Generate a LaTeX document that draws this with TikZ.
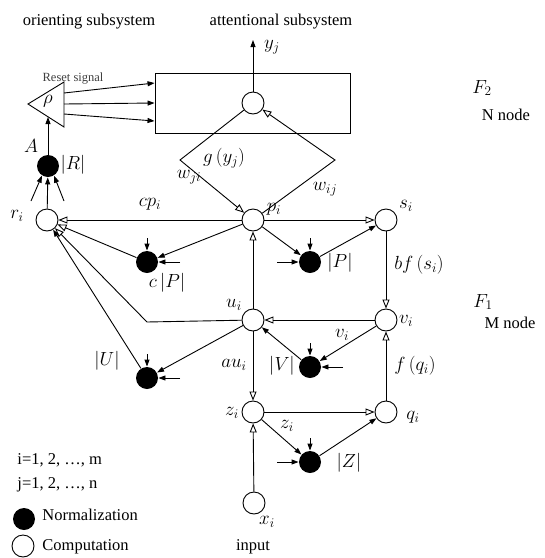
\RequirePackage{fix-cm}
\documentclass[tikz,border=0pt]{standalone}
\usepackage{fontspec}
\setmainfont{Liberation Serif}
\usetikzlibrary{arrows.meta,positioning,calc}

\begin{document}
\begin{tikzpicture}[x=1pt, y=-1pt, line width=0.9pt,
  comp/.style={draw, circle, fill=white, minimum size=22pt, inner sep=0pt},
  norm/.style={circle, fill=black, minimum size=22pt, inner sep=0pt},
  fwd/.style={-{Triangle[open, length=9pt, width=7pt]}},
  nrm/.style={-{Triangle[length=7pt, width=5pt]}},
  lab/.style={font=\fontsize{19}{21}\selectfont, inner sep=1pt},
  txt/.style={font=\fontsize{16.5}{19}\selectfont, inner sep=1pt}
]
\useasboundingbox (0,0) rectangle (545,558);

% headings
\node[txt] (orient) at (89,22) {orienting subsystem};
\node[txt] (attent) at (281,22) {attentional subsystem};

% F2 layer
\node[draw, minimum width=195pt, minimum height=60pt] (att) at (252.5,103) {};
\node[comp] (yj) at (253,103) {};
\coordinate (yout) at (253,40);
\draw[nrm] (yj) -- (yout);
\node[lab] (lyj) at (272,47) {$y_j$};

% reset unit
\draw (64,82) -- (28,104) -- (64,127) -- cycle;
\coordinate (rhoin) at (48,117);
\node[lab] (lrho) at (48,101) {$\rho$};
\node[txt, font=\fontsize{12.5}{14}\selectfont, text=black!75] (reset) at (73,79) {Reset signal};
\draw[nrm] (64,93) -- ($(att.west)+(0,-20)$);
\draw[nrm] (64,104) -- (att.west);
\draw[nrm] (64,114) -- ($(att.west)+(0,18)$);

% F1 layer
\node[comp] (pi) at (253,220) {};
\node[comp] (si) at (386,220) {};
\node[comp] (ui) at (253,320) {};
\node[comp] (vi) at (386,320) {};
\node[comp] (zi) at (253,412) {};
\node[comp] (qi) at (386,412) {};
\node[comp] (xi) at (254,503) {};
\node[comp] (ri) at (47,220) {};
\node[norm] (A) at (48,166) {};
\node[norm] (cP) at (147,262) {};
\node[norm] (P) at (310,262) {};
\node[norm] (U) at (147,378) {};
\node[norm] (V) at (310,367) {};
\node[norm] (Z) at (310,462) {};

% weights between F1 and F2
\coordinate (wl) at (180,160);
\coordinate (wr) at (335,160);
\draw[fwd] (yj) -- (wl) -- (pi);
\draw[fwd] (pi) -- (wr) -- (yj);

% connections
\draw[fwd] (pi) -- (ri);
\draw[nrm] (pi) -- (cP);
\draw[fwd] (cP) -- (ri);
\draw[nrm] (pi) -- (P);
\draw[nrm] (P) -- (si);
\draw[fwd] (pi) -- (si);
\draw[fwd] (si) -- (vi);
\draw[fwd] (vi) -- (ui);
\draw[nrm] (vi) -- (V);
\draw[nrm] (V) -- (ui);
\draw[fwd] (ui) -- (pi);
\coordinate (ubend) at (147,322);
\draw[fwd] (ui) -- (ubend) -- (ri);
\draw[nrm] (ui) -- (U);
\draw[nrm] (U) -- (ri);
\draw[fwd] (ui) -- (zi);
\draw[fwd] (xi) -- (zi);
\draw[fwd] (zi) -- (qi);
\draw[nrm] (zi) -- (Z);
\draw[nrm] (Z) -- (qi);
\draw[fwd] (qi) -- (vi);
\draw[nrm] (ri) -- (A);
\draw[nrm] (A) -- (rhoin);
\coordinate (ra1) at (31,201);
\coordinate (ra2) at (64,201);
\draw[nrm] (ra1) -- (A.238);
\draw[nrm] (ra2) -- (A.302);

% inputs of the normalization units (side: 1 right, -1 left)
\foreach \n/\s in {cP/1, P/-1, U/1, V/1, Z/-1} {
  \draw[nrm] ($(\n)+(0,-24)$) -- (\n);
  \draw[nrm] ($(\n)+(\s*33,0)$) -- (\n);
}

% labels
\node[lab] (lg) at (224,158) {$g\left(y_j\right)$};
\node[lab] (lwji) at (189,177) {$w_{ji}$};
\node[lab] (lwij) at (325,189) {$w_{ij}$};
\node[lab] (lcp) at (150,204) {$cp_i$};
\node[lab] (lpi) at (274,209) {$p_i$};
\node[lab] (lsi) at (406,206) {$s_i$};
\node[lab] (lri) at (17,216) {$r_i$};
\node[lab] (lA) at (31,146) {$A$};
\node[lab] (lR) at (73,165) {$\left|R\right|$};
\node[lab] (lcP) at (167,283) {$c\left|P\right|$};
\node[lab] (lP) at (340,263) {$\left|P\right|$};
\node[lab] (lbf) at (419,265) {$bf\left(s_i\right)$};
\node[lab] (lui) at (234,305) {$u_i$};
\node[lab] (lvi) at (406,321) {$v_i$};
\node[lab] (lvi2) at (342,335) {$v_i$};
\node[lab] (lU) at (107,361) {$\left|U\right|$};
\node[lab] (lV) at (282,366) {$\left|V\right|$};
\node[lab] (lau) at (234,365) {$au_i$};
\node[lab] (lf) at (415,366) {$f\left(q_i\right)$};
\node[lab] (lzi) at (232,413) {$z_i$};
\node[lab] (lzi2) at (287,426) {$z_i$};
\node[lab] (lqi) at (413,417) {$q_i$};
\node[lab] (lZ) at (349,463) {$\left|Z\right|$};
\node[lab] (lxi) at (267,522) {$x_i$};
\node[txt] (input) at (253,547) {input};

% layer names
\node[lab] (F2) at (482,88) {$F_2$};
\node[txt] (Nn) at (506,115) {N node};
\node[lab] (F1) at (483,302) {$F_1$};
\node[txt] (Mn) at (510,323) {M node};

% index ranges and legend
\node[txt, anchor=west] (irange) at (16,460) {i=1, 2, \ldots, m};
\node[txt, anchor=west] (jrange) at (16,485) {j=1, 2, \ldots, n};
\node[norm] (legN) at (24,519) {};
\node[txt, anchor=west] (tN) at (41,515) {Normalization};
\node[comp] (legC) at (23,546) {};
\node[txt, anchor=west] (tC) at (41,547) {Computation};

\end{tikzpicture}
\end{document}
